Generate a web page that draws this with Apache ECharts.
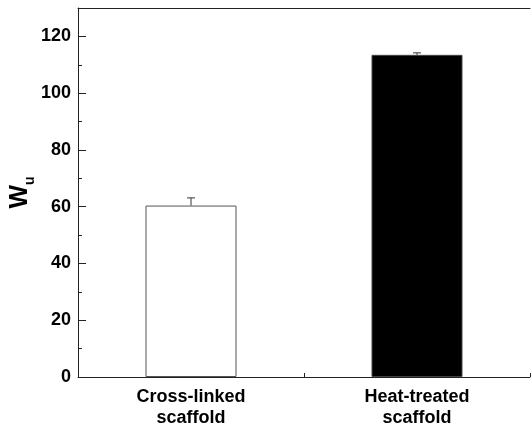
<!DOCTYPE html>
<html><head><meta charset="utf-8">
<script src="https://cdn.jsdelivr.net/npm/echarts@6/dist/echarts.min.js"></script>
<style>html,body{margin:0;padding:0;background:#fff}#c{width:531px;height:429px}</style>
</head><body><div id="c"></div>
<script>
const categories = ['Cross-linked\nscaffold', 'Heat-treated\nscaffold'];
const means = [60.4, 113.5];
const errors = [2.7, 0.7];
const yMin = 0, yMax = 130, yStep = 20, yMinorStep = 10;

const FONT = '"Liberation Sans", Arial, Helvetica, sans-serif';
const LINE = '#222';
const chart = echarts.init(document.getElementById('c'), null, {renderer: 'canvas'});

chart.setOption({
  animation: false,
  backgroundColor: '#fff',
  grid: {left: 78, width: 452, top: 8, bottom: 52, containLabel: false, outerBoundsMode: 'none', show: false},
  xAxis: [{
    type: 'category', data: categories, position: 'bottom',
    axisLine: {show: true, lineStyle: {color: LINE, width: 1}},
    axisTick: {show: true, inside: true, length: 8, alignWithLabel: true, lineStyle: {color: LINE}},
    axisLabel: {color: '#000', fontFamily: FONT, fontWeight: 'bold', fontSize: 18, lineHeight: 21, margin: 10},
    splitLine: {show: false}
  }, {
    type: 'category', data: categories, position: 'bottom', offset: 0,
    axisLine: {show: false},
    axisTick: {show: true, inside: true, length: 4, lineStyle: {color: LINE}},
    axisLabel: {show: false}, splitLine: {show: false}
  }, {
    type: 'category', data: categories, position: 'top', offset: 0,
    axisLine: {show: true, lineStyle: {color: LINE, width: 1}},
    axisTick: {show: false}, axisLabel: {show: false}, splitLine: {show: false}
  }],
  yAxis: [{
    type: 'value', min: yMin, max: yMax, interval: yStep, position: 'left',
    name: '{w|W}{s|u}', nameLocation: 'middle', nameRotate: 90, nameGap: 45, nameMoveOverlap: false,
    nameTextStyle: {rich: {
      w: {fontFamily: FONT, fontWeight: 'bold', fontSize: 25, color: '#000', lineHeight: 25, verticalAlign: 'top'},
      s: {fontFamily: FONT, fontWeight: 'bold', fontSize: 14, color: '#000', lineHeight: 14, verticalAlign: 'top', padding: [15, 0, 0, 0]}
    }},
    axisLine: {show: true, lineStyle: {color: LINE, width: 1}},
    axisTick: {show: true, inside: true, length: 8, lineStyle: {color: LINE}},
    axisLabel: {color: '#000', fontFamily: FONT, fontWeight: 'bold', fontSize: 18, margin: 7, showMaxLabel: false},
    splitLine: {show: false}
  }, {
    type: 'value', min: yMin, max: yMax, interval: yMinorStep, position: 'left', offset: 0,
    axisLine: {show: false},
    axisTick: {show: true, inside: true, length: 4, lineStyle: {color: LINE}},
    axisLabel: {show: false}, splitLine: {show: false}
  }],
  series: [{
    type: 'bar', xAxisIndex: 0, yAxisIndex: 0, barWidth: 91,
    data: means.map((v, i) => ({value: v, itemStyle: i === 0
      ? {color: '#fff', borderColor: '#555', borderWidth: 1}
      : {color: '#000', borderColor: '#444', borderWidth: 1}})),
    z: 3
  }, {
    type: 'custom', xAxisIndex: 0, yAxisIndex: 0, z: 4,
    data: means.map((v, i) => [i, v, v + errors[i]]),
    renderItem: function (params, api) {
      const x = api.value(0);
      const p0 = api.coord([x, api.value(1)]);
      const p1 = api.coord([x, api.value(2)]);
      const hw = 4;
      const st = {stroke: '#333', lineWidth: 1};
      return {type: 'group', children: [
        {type: 'line', shape: {x1: p0[0], y1: p0[1], x2: p1[0], y2: p1[1]}, style: st},
        {type: 'line', shape: {x1: p1[0] - hw, y1: p1[1], x2: p1[0] + hw, y2: p1[1]}, style: st}
      ]};
    }
  }]
});
</script></body></html>
